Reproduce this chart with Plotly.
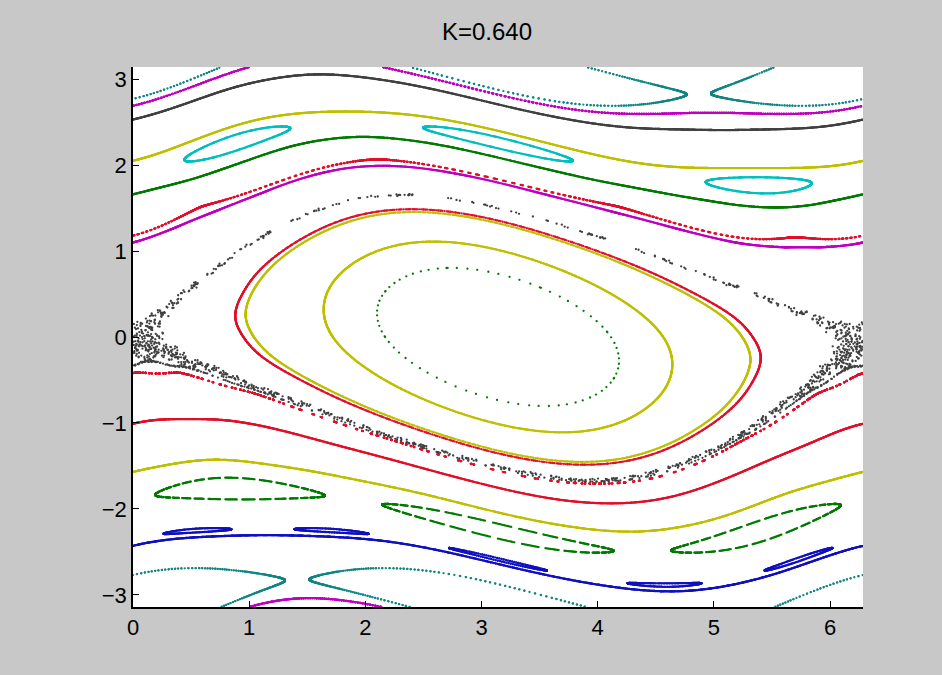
import numpy as np
import plotly.graph_objects as go

# Standard map parameter (from title)
K = 0.640

# Initial conditions of each plotted orbit, colours and iteration counts
theta0 = [0.00, 0.00, 0.00, 0.90, 0.55, 0.00, 0.00, 0.00, 0.00, 0.90, 0.00, 0.00, 0.00, 0.00, 2.17, 1.72, 1.04, 0.95, 0.01]
p0     = [-0.42, -1.01, -1.57, -1.64, -2.23, -2.43, -2.77, 2.69, 2.53, 2.36, 2.05, 1.66, 1.18, 1.10, 0.00, 0.00, 0.00, 0.00, 0.00]
colors = ["#e0102a", "#e0102a", "#bfbf00", "#007a00", "#1010c0", "#1010c0", "#108585", "#bf00bf", "#404040",
          "#00bfbf", "#bfbf00", "#007a00", "#e0102a", "#bf00bf", "#007a00", "#bfbf00", "#bfbf00", "#e0102a", "#404040"]
n_iter = [1500, 1500, 1500, 1500, 1500, 1500, 1500, 1500, 1500, 1500, 1500, 1500, 1500, 1500, 80, 1500, 1500, 1500, 1500]

x_ticks = [0, 1, 2, 3, 4, 5, 6]
y_ticks = [-3, -2, -1, 0, 1, 2, 3]
title_text = "K=0.640"

TWO_PI = 2 * np.pi


def orbit(t, p, n):
    ts = np.empty(n)
    ps = np.empty(n)
    for i in range(n):
        ts[i] = t
        ps[i] = p
        t = (t + p) % TWO_PI
        p = p + K * np.sin(t)
        p = (p + np.pi) % TWO_PI - np.pi
    return ts, ps


fig = go.Figure()
for t0, q0, c, n in zip(theta0, p0, colors, n_iter):
    xs, ys = orbit(t0, q0, n)
    fig.add_trace(go.Scatter(x=xs, y=ys, mode="markers",
                             marker=dict(color=c, size=2.3, line=dict(width=0)),
                             hoverinfo="skip", showlegend=False))

fig.update_layout(
    width=942, height=675,
    paper_bgcolor="#c8c8c8", plot_bgcolor="#ffffff",
    margin=dict(l=133, r=79, t=67, b=68),
    title=dict(text=title_text, x=0.517, xanchor="center", y=0.953, yanchor="middle",
               font=dict(family="Liberation Sans, Arial, sans-serif", size=24, color="#000000")),
    font=dict(family="Liberation Sans, Arial, sans-serif", size=22, color="#000000"),
)
fig.update_xaxes(range=[0, TWO_PI], tickvals=x_ticks, ticks="inside", ticklen=6, tickcolor="#000",
                 showline=True, linecolor="#000", linewidth=1.5, showgrid=False, zeroline=False,
                 mirror=False)
fig.update_yaxes(range=[-np.pi, np.pi], tickvals=y_ticks, ticks="inside", ticklen=6, tickcolor="#000",
                 showline=True, linecolor="#000", linewidth=1.5, showgrid=False, zeroline=False,
                 mirror=False)

fig.write_html("out.html")
